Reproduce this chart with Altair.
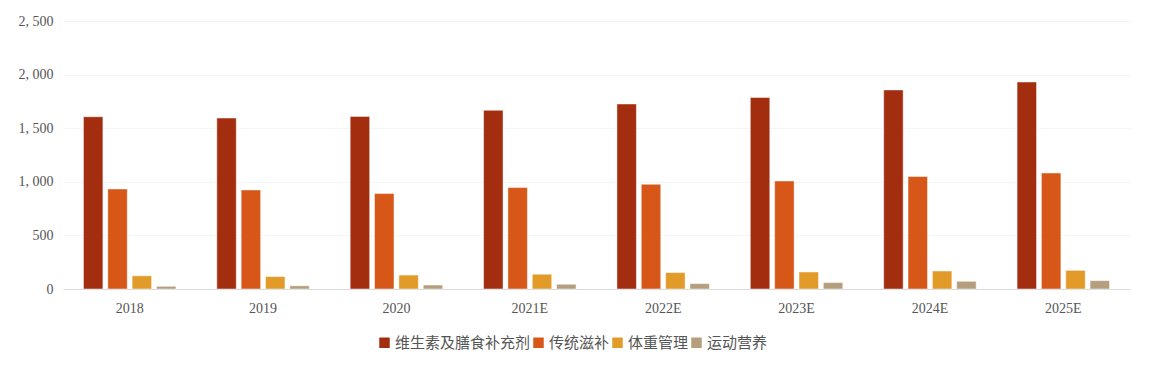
import altair as alt
import pandas as pd

years = ["2018", "2019", "2020", "2021E", "2022E", "2023E", "2024E", "2025E"]
series = ["维生素及膳食补充剂", "传统滋补", "体重管理", "运动营养"]
colors = ["#A32D0F", "#D65718", "#E29A29", "#B59E7E"]

vitamins = [1607, 1595, 1610, 1667, 1726, 1786, 1857, 1931]
tonic = [933, 924, 890, 946, 977, 1008, 1049, 1082]
weight = [123, 116, 130, 138, 153, 159, 168, 174]
sports = [25, 30, 37, 44, 50, 60, 72, 78]

rows = []
for vals, name in zip([vitamins, tonic, weight, sports], series):
    for y, v in zip(years, vals):
        rows.append({"year": y, "series": name, "value": v})
df = pd.DataFrame(rows)

font = "Liberation Serif"
chart = alt.Chart(df).mark_bar(stroke="#ffffff", strokeWidth=0.8, strokeOpacity=0.6).encode(
    x=alt.X("year:N", sort=years, title=None,
            scale=alt.Scale(paddingInner=0.27, paddingOuter=0.135),
            axis=alt.Axis(labelAngle=0, ticks=False, domain=True, domainColor="#d9d9d9",
                          labelFont=font, labelFontSize=14, labelColor="#555555",
                          labelPadding=12, grid=False)),
    xOffset=alt.XOffset("series:N", sort=series,
                        scale=alt.Scale(paddingInner=0.2, paddingOuter=0.1)),
    y=alt.Y("value:Q", title=None,
            scale=alt.Scale(domain=[0, 2500]),
            axis=alt.Axis(values=[0, 500, 1000, 1500, 2000, 2500], ticks=False, domain=False,
                          labelFont=font, labelFontSize=14, labelColor="#555555",
                          labelPadding=10, grid=True, gridColor="#f5f5f5", gridWidth=1,
                          labelExpr="replace(format(datum.value, ','), ',', ', ')")),
    color=alt.Color("series:N", sort=series, title=None,
                    scale=alt.Scale(domain=series, range=colors),
                    legend=alt.Legend(orient="none", legendX=314, legendY=314,
                                      direction="horizontal", symbolType="square",
                                      symbolSize=110, symbolStrokeWidth=0,
                                      labelFont="Noto Sans CJK SC", labelFontSize=15,
                                      labelColor="#555555", columnPadding=0, labelOffset=3,
                                      labelLimit=300)),
).properties(
    width=1067, height=268,
    autosize=alt.AutoSizeParams(type="none"),
    padding={"left": 63, "top": 21, "right": 23, "bottom": 82},
).configure_view(strokeWidth=0, strokeOpacity=0).configure_axisX(grid=False).configure_axisY(domain=False)

chart.save("out.html", embed_options={"renderer": "svg", "actions": False})
